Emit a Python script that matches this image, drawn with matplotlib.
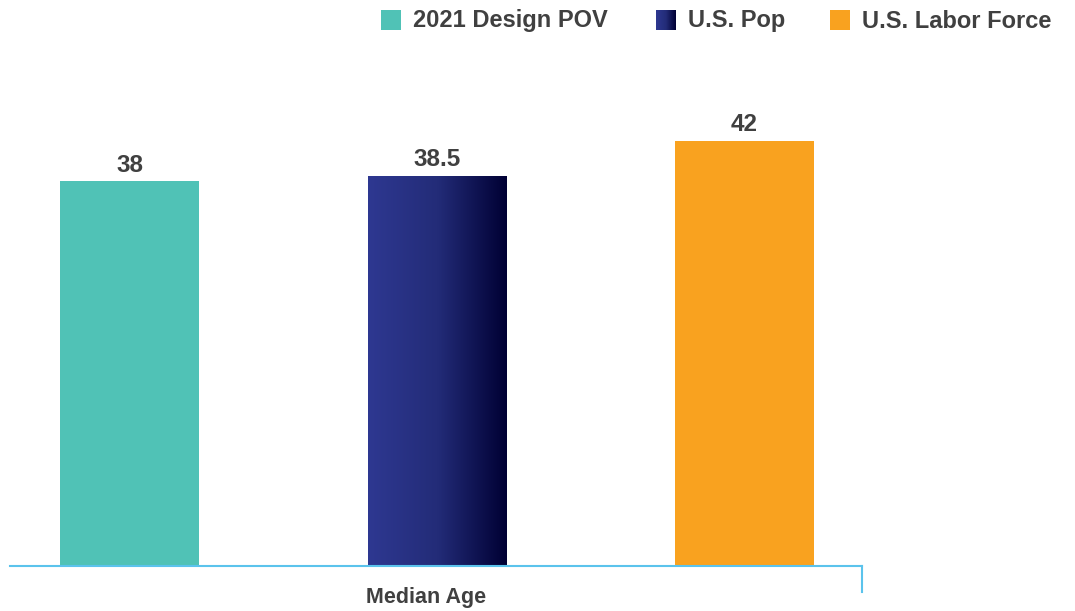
import numpy as np
import matplotlib.pyplot as plt
from matplotlib.patches import Rectangle
from matplotlib.colors import LinearSegmentedColormap

plt.rcParams['font.family'] = ['Liberation Sans', 'DejaVu Sans']

# data
series = ["2021 Design POV", "U.S. Pop", "U.S. Labor Force"]
values = [38, 38.5, 42]
value_labels = ["38", "38.5", "42"]
category = "Median Age"

teal = "#50C2B6"
orange = "#F9A21F"
navy_cmap = LinearSegmentedColormap.from_list("navy", ["#2E3891", "#232C78", "#000033"])
text_col = "#404040"
axis_col = "#5BC3EC"

fig = plt.figure(figsize=(10.75, 6.11), dpi=100)
ax = fig.add_axes([10 / 1075, 45 / 611, 852 / 1075, 506.5 / 611])

x = np.arange(len(values))
width = 0.452
bars = ax.bar(x, values, width=width, color=[teal, "#1B2266", orange])

# gradient fill for the middle bar
grad = np.linspace(0, 1, 256).reshape(1, -1)
b = bars[1]
im = ax.imshow(grad, cmap=navy_cmap, aspect="auto",
               extent=[b.get_x(), b.get_x() + b.get_width(), 0, b.get_height()],
               zorder=b.get_zorder() + 0.1)
im.set_clip_path(b)

for xi, v, lab in zip(x, values, value_labels):
    ax.text(xi, v + 0.45, lab, ha="center", va="bottom", fontsize=17.5,
            fontweight="bold", color=text_col)

ax.set_xlim(-0.389, 2.382)
ax.set_ylim(0, 50)
ax.set_xticks([])
ax.set_yticks([])
for s in ["top", "left", "right"]:
    ax.spines[s].set_visible(False)
ax.spines["bottom"].set_color(axis_col)
ax.spines["bottom"].set_linewidth(1.5)
ax.plot([1, 1], [0, -26 / 506.5], transform=ax.transAxes, color=axis_col,
        lw=1.5, clip_on=False)

fig.text(426 / 1075, 1 - 598 / 611, category, ha="center", va="center",
         fontsize=15.5, fontweight="bold", color=text_col)

# legend row
legend_x = [381, 656, 830]
for i, (lx, name) in enumerate(zip(legend_x, series)):
    x0 = lx / 1075
    y0 = 1 - 30 / 611
    w = 20 / 1075
    h = 20 / 611
    if i == 1:
        lax = fig.add_axes([x0, y0, w, h])
        lax.imshow(grad, cmap=navy_cmap, aspect="auto")
        lax.axis("off")
    else:
        fig.add_artist(Rectangle((x0, y0), w, h, transform=fig.transFigure,
                                 color=[teal, None, orange][i], lw=0))
    fig.text((lx + 32) / 1075, 1 - 21 / 611, name, ha="left", va="center",
             fontsize=17, fontweight="bold", color=text_col)

fig.savefig("out.png", dpi=100)
